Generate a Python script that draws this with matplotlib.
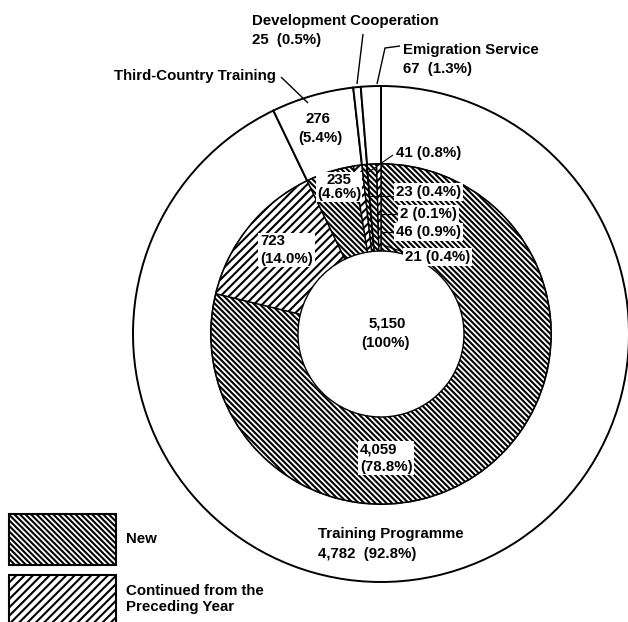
import matplotlib
matplotlib.use("Agg")
import matplotlib.pyplot as plt
from matplotlib.patches import Patch

# ---- data ----
outer_labels = ["Training Programme", "Third-Country Training",
                "Development Cooperation", "Emigration Service"]
outer_values = [4782, 276, 25, 67]
outer_pct = ["92.8%", "5.4%", "0.5%", "1.3%"]

inner_values = [4059, 723, 235, 41, 23, 2, 46, 21]
inner_kind = ["New", "Continued", "New", "Continued",
              "New", "Continued", "New", "Continued"]
inner_pct = ["78.8%", "14.0%", "4.6%", "0.8%", "0.4%", "0.1%", "0.9%", "0.4%"]
total_value = 5150
legend_labels = ["New", "Continued from the\nPreceding Year"]

# ---- style ----
W, H = 628, 622
plt.rcParams['font.family'] = ['Liberation Sans', 'DejaVu Sans']
plt.rcParams['hatch.linewidth'] = 1.5
FS = 10.8
FW = 'bold'
hatch_map = {"New": "\\" * 6, "Continued": "/" * 4}

fig = plt.figure(figsize=(W / 100, H / 100), dpi=100)
ax = fig.add_axes([0, 0, 1, 1])

cx, cy = 381, H - 334
R_out, R_mid, R_in = 248, 170, 83

def Y(y):
    return H - y

# outer ring
ax.pie(outer_values, radius=R_out, center=(cx, cy), startangle=90,
       counterclock=False, frame=True,
       wedgeprops=dict(width=R_out - R_mid, facecolor='white',
                       edgecolor='black', linewidth=1.4))
# inner ring
wedges, _ = ax.pie(inner_values, radius=R_mid, center=(cx, cy), startangle=90,
                   counterclock=False, frame=True,
                   wedgeprops=dict(width=R_mid - R_in, facecolor='white',
                                   edgecolor='black', linewidth=1.0))
for w, k in zip(wedges, inner_kind):
    w.set_hatch(hatch_map[k])

ax.set_xlim(0, W)
ax.set_ylim(0, H)
ax.set_aspect('auto')
ax.axis('off')

def txt(x, y, s, ha='left', box=False):
    kw = dict(fontsize=FS, fontweight=FW, ha=ha, va='center', color='black', zorder=5)
    if box:
        kw['bbox'] = dict(boxstyle='square,pad=0.12', facecolor='white', edgecolor='none')
    ax.text(x, Y(y), s, **kw)

def line(pts, lw=1.0):
    xs = [p[0] for p in pts]
    ys = [Y(p[1]) for p in pts]
    ax.plot(xs, ys, color='black', lw=lw, zorder=4, solid_capstyle='butt')

fmt = lambda v: f"{v:,}"

# outer labels
txt(252, 21, outer_labels[2])
txt(252, 40, f"{fmt(outer_values[2])}  ({outer_pct[2]})")
line([(363, 34), (357, 84)])
txt(403, 50, outer_labels[3])
txt(403, 69, f"{fmt(outer_values[3])}  ({outer_pct[3]})")
line([(400, 46), (385, 48), (377, 84)])
txt(114, 76, outer_labels[1])
line([(281, 77), (308, 103)])
txt(318, 119, fmt(outer_values[1]), ha='center')
txt(320, 138, f"({outer_pct[1]})", ha='center')
txt(318, 534, outer_labels[0])
txt(318, 554, f"{fmt(outer_values[0])}  ({outer_pct[0]})")

# centre
txt(387, 323, fmt(total_value), ha='center')
txt(386, 343, "(100%)", ha='center')

# inner labels
ax.text(360, Y(458), f"{fmt(inner_values[0])}\n({inner_pct[0]})", fontsize=FS,
        fontweight=FW, ha='left', va='center', linespacing=1.3, zorder=5,
        bbox=dict(boxstyle='square,pad=0.12', facecolor='white', edgecolor='none'))
ax.text(260, Y(250), f"{fmt(inner_values[1])}\n({inner_pct[1]})", fontsize=FS,
        fontweight=FW, ha='left', va='center', linespacing=1.3, zorder=5,
        bbox=dict(boxstyle='square,pad=0.12', facecolor='white', edgecolor='none'))
ax.text(339, Y(187), f"{fmt(inner_values[2])}\n({inner_pct[2]})", fontsize=FS,
        fontweight=FW, ha='center', va='center', linespacing=1.05, zorder=5,
        bbox=dict(boxstyle='square,pad=0.03', facecolor='white', edgecolor='none'))

txt(396, 153, f"{inner_values[3]} ({inner_pct[3]})")
line([(393, 155), (366, 174)], lw=0.8)
txt(396, 192, f"{inner_values[4]} ({inner_pct[4]})", box=True)
line([(370, 196), (394, 196)], lw=0.8)
txt(400, 214, f"{inner_values[5]} ({inner_pct[5]})", box=True)
line([(377, 214), (398, 214)], lw=0.8)
txt(396, 232, f"{inner_values[6]} ({inner_pct[6]})", box=True)
line([(381, 232), (395, 232)], lw=0.8)
txt(405, 257, f"{inner_values[7]} ({inner_pct[7]})", box=True)
line([(406, 253), (383, 245)], lw=0.8)

# legend
handles = [Patch(facecolor='white', edgecolor='black', linewidth=1.5,
                 hatch=hatch_map["New"]),
           Patch(facecolor='white', edgecolor='black', linewidth=1.5,
                 hatch=hatch_map["Continued"])]
fs_px = FS * 100 / 72
hh = (51 / fs_px - 0.245) / 0.65
leg = ax.legend(handles, legend_labels, loc='upper left',
                bbox_to_anchor=(9 / W, 1 - 514 / H), frameon=False,
                borderpad=0, borderaxespad=0,
                handlelength=107 / fs_px, handleheight=hh,
                handletextpad=10 / fs_px, labelspacing=10 / fs_px,
                prop=dict(family=['Liberation Sans', 'DejaVu Sans'],
                          weight=FW, size=FS))

fig.savefig("out.png", dpi=100)
